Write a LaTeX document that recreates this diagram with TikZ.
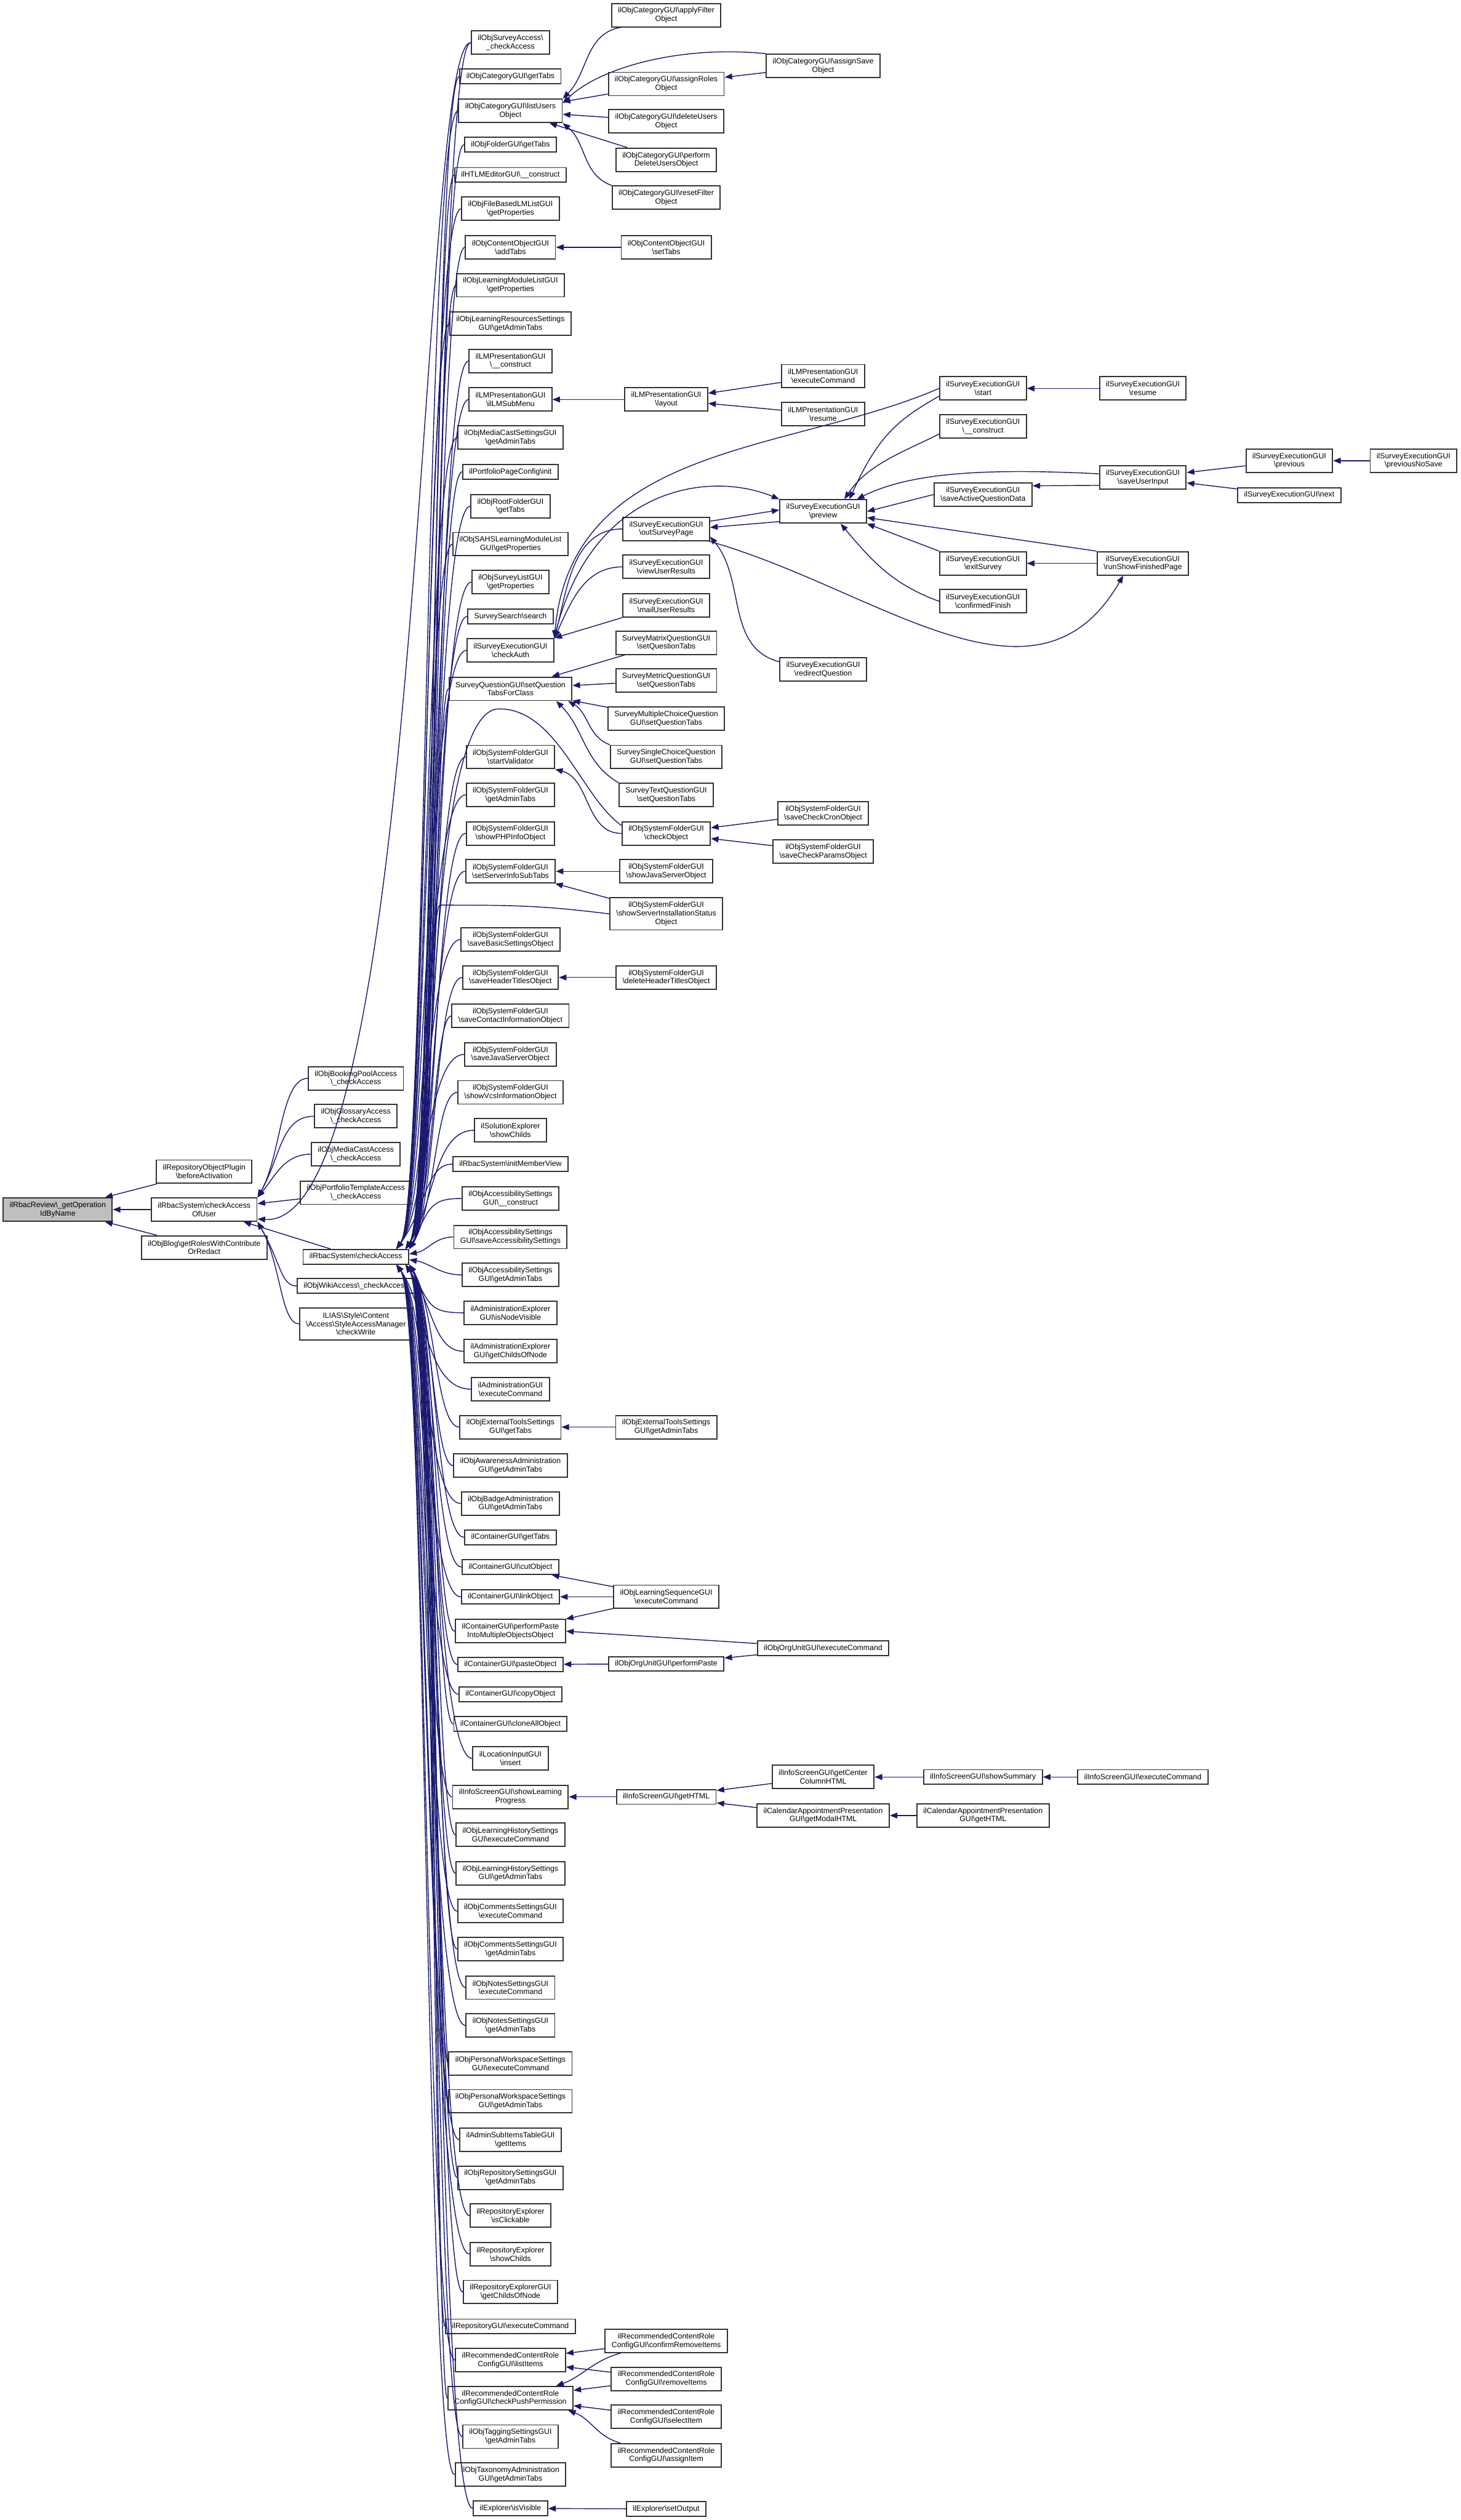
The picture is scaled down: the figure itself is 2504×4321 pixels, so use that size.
\documentclass[tikz,border=0pt]{standalone}
\usepackage{fontspec}
\setmainfont{Liberation Sans}
\usepackage{tikz}
\usetikzlibrary{arrows.meta,calc}
\definecolor{edgecolor}{RGB}{25,25,112}
\definecolor{rootcolor}{RGB}{191,191,191}
\newcommand{\bsl}{\textbackslash}
\tikzset{
  fn box/.style={
    rectangle,
    draw=black!80,
    fill=white,
    line width=2pt,
    align=center,
    inner xsep=11pt,
    inner ysep=5pt,
    minimum height=25pt,
    font=\fontsize{13}{14.5}\selectfont
  },
  fn two/.style={
    fn box,
    minimum height=40pt
  },
  fn three/.style={
    fn box,
    minimum height=55pt
  },
  fn root/.style={
    fn two,
    fill=rootcolor
  },
  arrow/.style={
    ->,
    >={Triangle[length=13pt,width=10pt]},
    draw=edgecolor,
    line width=1.5pt
  },
  fan down/.style={
    to path={.. controls ($(\tikztotarget|-\tikztostart)+(#1,0)$)
      and ($(\tikztotarget)+(#1,-70)$) .. (\tikztotarget)}
  },
  fan down/.default=45,
  fan up/.style={
    to path={.. controls ($(\tikztotarget|-\tikztostart)+(#1,0)$)
      and ($(\tikztotarget)+(#1,70)$) .. (\tikztotarget)}
  },
  fan up/.default=45
}

\begin{document}
\begin{tikzpicture}[x=1pt,y=-1pt]
  \useasboundingbox (0,0) rectangle (2504,4321);

  % Root and first callers
  \node[fn root] (root) at (99,2074) {ilRbacReview\bsl\_getOperation\\IdByName};
  \node[fn two] (plugin) at (350,2009) {ilRepositoryObjectPlugin\\\bsl beforeActivation};
  \node[fn two] (ofuser) at (350,2074) {ilRbacSystem\bsl checkAccess\\OfUser};
  \node[fn two] (blog) at (350,2139) {ilObjBlog\bsl getRolesWithContribute\\OrRedact};

  % Access classes
  \node[fn two] (booking) at (610,1849) {ilObjBookingPoolAccess\\\bsl\_checkAccess};
  \node[fn two] (glossary) at (610,1914) {ilObjGlossaryAccess\\\bsl\_checkAccess};
  \node[fn two] (mediacast) at (610,1979) {ilObjMediaCastAccess\\\bsl\_checkAccess};
  \node[fn two] (portfolio) at (610,2045) {ilObjPortfolioTemplateAccess\\\bsl\_checkAccess};
  \node[fn box] (chk) at (610,2155) {ilRbacSystem\bsl checkAccess};
  \node[fn box] (wiki) at (610,2205) {ilObjWikiAccess\bsl\_checkAccess};
  \node[fn three] (styleacc) at (610,2270) {ILIAS\bsl Style\bsl Content\hfill\\\bsl Access\bsl StyleAccessManager\\\bsl checkWrite};

  % Callers of checkAccess
  \node[fn two] (surveyacc) at (875,73) {ilObjSurveyAccess\bsl\\\_checkAccess};
  \node[fn box] (cattabs) at (875,131) {ilObjCategoryGUI\bsl getTabs};
  \node[fn two] (listusers) at (875,190) {ilObjCategoryGUI\bsl listUsers\\Object};
  \node[fn box] (foldertabs) at (875,248) {ilObjFolderGUI\bsl getTabs};
  \node[fn box] (htlm) at (875,300) {ilHTLMEditorGUI\bsl\_\_construct};
  \node[fn two] (filelm) at (875,358) {ilObjFileBasedLMListGUI\\\bsl getProperties};
  \node[fn two] (addtabs) at (875,424) {ilObjContentObjectGUI\\\bsl addTabs};
  \node[fn two] (lmlist) at (875,489) {ilObjLearningModuleListGUI\\\bsl getProperties};
  \node[fn two] (lrsettings) at (875,555) {ilObjLearningResourcesSettings\\GUI\bsl getAdminTabs};
  \node[fn two] (lmpconstr) at (875,619) {ilLMPresentationGUI\\\bsl\_\_construct};
  \node[fn two] (submenu) at (875,685) {ilLMPresentationGUI\\\bsl ilLMSubMenu};
  \node[fn two] (mcsettings) at (875,750) {ilObjMediaCastSettingsGUI\\\bsl getAdminTabs};
  \node[fn box] (portfolioinit) at (875,809) {ilPortfolioPageConfig\bsl init};
  \node[fn two] (roottabs) at (875,868) {ilObjRootFolderGUI\\\bsl getTabs};
  \node[fn two] (sahs) at (875,933) {ilObjSAHSLearningModuleList\\GUI\bsl getProperties};
  \node[fn two] (surveylist) at (875,998) {ilObjSurveyListGUI\\\bsl getProperties};
  \node[fn box] (search) at (875,1057) {SurveySearch\bsl search};
  \node[fn two] (checkauth) at (875,1115) {ilSurveyExecutionGUI\\\bsl checkAuth};
  \node[fn two] (qtabs) at (875,1181) {SurveyQuestionGUI\bsl setQuestion\\TabsForClass};
  \node[fn two] (startval) at (875,1298) {ilObjSystemFolderGUI\\\bsl startValidator};
  \node[fn two] (sfadmin) at (875,1363) {ilObjSystemFolderGUI\\\bsl getAdminTabs};
  \node[fn two] (phpinfo) at (875,1429) {ilObjSystemFolderGUI\\\bsl showPHPInfoObject};
  \node[fn two] (serverinfo) at (875,1494) {ilObjSystemFolderGUI\hfill\\\bsl setServerInfoSubTabs};
  \node[fn two] (savebasic) at (875,1611) {ilObjSystemFolderGUI\hfill\\\bsl saveBasicSettingsObject};
  \node[fn two] (saveheader) at (875,1676) {ilObjSystemFolderGUI\hfill\\\bsl saveHeaderTitlesObject};
  \node[fn two] (savecontact) at (875,1742) {ilObjSystemFolderGUI\hfill\\\bsl saveContactInformationObject};
  \node[fn two] (savejava) at (875,1808) {ilObjSystemFolderGUI\hfill\\\bsl saveJavaServerObject};
  \node[fn two] (vcs) at (875,1873) {ilObjSystemFolderGUI\hfill\\\bsl showVcsInformationObject};
  \node[fn two] (solution) at (875,1938) {ilSolutionExplorer\\\bsl showChilds};
  \node[fn box] (memberview) at (875,1996) {ilRbacSystem\bsl initMemberView};
  \node[fn two] (accconstr) at (875,2055) {ilObjAccessibilitySettings\\GUI\bsl\_\_construct};
  \node[fn two] (accsave) at (875,2121) {ilObjAccessibilitySettings\hfill\\GUI\bsl saveAccessibilitySettings};
  \node[fn two] (acctabs) at (875,2186) {ilObjAccessibilitySettings\\GUI\bsl getAdminTabs};
  \node[fn two] (admvisible) at (875,2251) {ilAdministrationExplorer\\GUI\bsl isNodeVisible};
  \node[fn two] (admchilds) at (875,2317) {ilAdministrationExplorer\\GUI\bsl getChildsOfNode};
  \node[fn two] (admexec) at (875,2382) {ilAdministrationGUI\\\bsl executeCommand};
  \node[fn two] (exttabs) at (875,2447) {ilObjExternalToolsSettings\\GUI\bsl getTabs};
  \node[fn two] (awareness) at (875,2513) {ilObjAwarenessAdministration\\GUI\bsl getAdminTabs};
  \node[fn two] (badge) at (875,2578) {ilObjBadgeAdministration\\GUI\bsl getAdminTabs};
  \node[fn box] (conttabs) at (875,2636) {ilContainerGUI\bsl getTabs};
  \node[fn box] (cut) at (875,2687) {ilContainerGUI\bsl cutObject};
  \node[fn box] (link) at (875,2738) {ilContainerGUI\bsl linkObject};
  \node[fn two] (pastemulti) at (875,2797) {ilContainerGUI\bsl performPaste\\IntoMultipleObjectsObject};
  \node[fn box] (paste) at (875,2854) {ilContainerGUI\bsl pasteObject};
  \node[fn box] (copy) at (875,2905) {ilContainerGUI\bsl copyObject};
  \node[fn box] (clone) at (875,2956) {ilContainerGUI\bsl cloneAllObject};
  \node[fn two] (location) at (875,3015) {ilLocationInputGUI\\\bsl insert};
  \node[fn two] (showlp) at (875,3081) {ilInfoScreenGUI\bsl showLearning\\Progress};
  \node[fn two] (lhexec) at (875,3146) {ilObjLearningHistorySettings\\GUI\bsl executeCommand};
  \node[fn two] (lhtabs) at (875,3212) {ilObjLearningHistorySettings\\GUI\bsl getAdminTabs};
  \node[fn two] (cmexec) at (875,3277) {ilObjCommentsSettingsGUI\\\bsl executeCommand};
  \node[fn two] (cmtabs) at (875,3342) {ilObjCommentsSettingsGUI\\\bsl getAdminTabs};
  \node[fn two] (ntexec) at (875,3408) {ilObjNotesSettingsGUI\\\bsl executeCommand};
  \node[fn two] (nttabs) at (875,3473) {ilObjNotesSettingsGUI\\\bsl getAdminTabs};
  \node[fn two] (pwexec) at (875,3538) {ilObjPersonalWorkspaceSettings\\GUI\bsl executeCommand};
  \node[fn two] (pwtabs) at (875,3603) {ilObjPersonalWorkspaceSettings\\GUI\bsl getAdminTabs};
  \node[fn two] (subitems) at (875,3669) {ilAdminSubItemsTableGUI\\\bsl getItems};
  \node[fn two] (reposet) at (875,3734) {ilObjRepositorySettingsGUI\\\bsl getAdminTabs};
  \node[fn two] (clickable) at (875,3799) {ilRepositoryExplorer\\\bsl isClickable};
  \node[fn two] (showchilds) at (875,3865) {ilRepositoryExplorer\\\bsl showChilds};
  \node[fn two] (explgui) at (875,3930) {ilRepositoryExplorerGUI\\\bsl getChildsOfNode};
  \node[fn box] (repoexec) at (875,3989) {ilRepositoryGUI\bsl executeCommand};
  \node[fn two] (listitems) at (875,4047) {ilRecommendedContentRole\\ConfigGUI\bsl listItems};
  \node[fn two] (checkpush) at (875,4112) {ilRecommendedContentRole\hfill\\ConfigGUI\bsl checkPushPermission};
  \node[fn two] (tagging) at (875,4178) {ilObjTaggingSettingsGUI\\\bsl getAdminTabs};
  \node[fn two] (taxonomy) at (875,4243) {ilObjTaxonomyAdministration\\GUI\bsl getAdminTabs};
  \node[fn box] (isvisible) at (875,4301) {ilExplorer\bsl isVisible};

  % Fourth column
  \node[fn two] (applyfilter) at (1142,26) {ilObjCategoryGUI\bsl applyFilter\\Object};
  \node[fn two] (assignroles) at (1142,144) {ilObjCategoryGUI\bsl assignRoles\\Object};
  \node[fn two] (deleteusers) at (1142,208) {ilObjCategoryGUI\bsl deleteUsers\\Object};
  \node[fn two] (performdelete) at (1142,274) {ilObjCategoryGUI\bsl perform\\DeleteUsersObject};
  \node[fn two] (resetfilter) at (1142,339) {ilObjCategoryGUI\bsl resetFilter\\Object};
  \node[fn two] (settabs) at (1142,424) {ilObjContentObjectGUI\\\bsl setTabs};
  \node[fn two] (layout) at (1142,685) {ilLMPresentationGUI\\\bsl layout};
  \node[fn two] (outsurvey) at (1142,907) {ilSurveyExecutionGUI\\\bsl outSurveyPage};
  \node[fn two] (viewresults) at (1142,972) {ilSurveyExecutionGUI\\\bsl viewUserResults};
  \node[fn two] (mailresults) at (1142,1038) {ilSurveyExecutionGUI\\\bsl mailUserResults};
  \node[fn two] (matrixq) at (1142,1102) {SurveyMatrixQuestionGUI\\\bsl setQuestionTabs};
  \node[fn two] (metricq) at (1142,1167) {SurveyMetricQuestionGUI\\\bsl setQuestionTabs};
  \node[fn two] (multiq) at (1142,1232) {SurveyMultipleChoiceQuestion\\GUI\bsl setQuestionTabs};
  \node[fn two] (singleq) at (1142,1298) {SurveySingleChoiceQuestion\\GUI\bsl setQuestionTabs};
  \node[fn two] (textq) at (1142,1363) {SurveyTextQuestionGUI\\\bsl setQuestionTabs};
  \node[fn two] (checkobj) at (1142,1429) {ilObjSystemFolderGUI\\\bsl checkObject};
  \node[fn two] (showjava) at (1142,1494) {ilObjSystemFolderGUI\hfill\\\bsl showJavaServerObject};
  \node[fn three] (showserver) at (1142,1567) {ilObjSystemFolderGUI\hfill\\\bsl showServerInstallationStatus\\Object};
  \node[fn two] (deleteheader) at (1142,1676) {ilObjSystemFolderGUI\hfill\\\bsl deleteHeaderTitlesObject};
  \node[fn two] (extadmin) at (1142,2447) {ilObjExternalToolsSettings\\GUI\bsl getAdminTabs};
  \node[fn two] (lsexec) at (1142,2738) {ilObjLearningSequenceGUI\\\bsl executeCommand};
  \node[fn box] (orgpaste) at (1142,2853) {ilObjOrgUnitGUI\bsl performPaste};
  \node[fn box] (infohtml) at (1142,3081) {ilInfoScreenGUI\bsl getHTML};
  \node[fn two] (confirmremove) at (1142,4014) {ilRecommendedContentRole\hfill\\ConfigGUI\bsl confirmRemoveItems};
  \node[fn two] (removeitems) at (1142,4079) {ilRecommendedContentRole\\ConfigGUI\bsl removeItems};
  \node[fn two] (selectitem) at (1142,4144) {ilRecommendedContentRole\\ConfigGUI\bsl selectItem};
  \node[fn two] (assignitem) at (1142,4210) {ilRecommendedContentRole\\ConfigGUI\bsl assignItem};
  \node[fn box] (setoutput) at (1142,4302) {ilExplorer\bsl setOutput};

  % Fifth column
  \node[fn two] (assignsave) at (1411,113) {ilObjCategoryGUI\bsl assignSave\\Object};
  \node[fn two] (lmpexec) at (1411,645) {ilLMPresentationGUI\\\bsl executeCommand};
  \node[fn two] (lmpresume) at (1411,710) {ilLMPresentationGUI\\\bsl resume};
  \node[fn two] (preview) at (1411,877) {ilSurveyExecutionGUI\\\bsl preview};
  \node[fn two] (redirect) at (1411,1148) {ilSurveyExecutionGUI\\\bsl redirectQuestion};
  \node[fn two] (savecron) at (1411,1395) {ilObjSystemFolderGUI\hfill\\\bsl saveCheckCronObject};
  \node[fn two] (saveparams) at (1411,1460) {ilObjSystemFolderGUI\hfill\\\bsl saveCheckParamsObject};
  \node[fn box] (orgexec) at (1411,2826) {ilObjOrgUnitGUI\bsl executeCommand};
  \node[fn two] (centercol) at (1411,3047) {ilInfoScreenGUI\bsl getCenter\\ColumnHTML};
  \node[fn two] (modalhtml) at (1411,3113) {ilCalendarAppointmentPresentation\\GUI\bsl getModalHTML};

  % Sixth to ninth columns
  \node[fn two] (start) at (1685,666) {ilSurveyExecutionGUI\\\bsl start};
  \node[fn two] (seconstr) at (1685,731) {ilSurveyExecutionGUI\\\bsl\_\_construct};
  \node[fn two] (saveactive) at (1685,848) {ilSurveyExecutionGUI\hfill\\\bsl saveActiveQuestionData};
  \node[fn two] (exitsurvey) at (1685,966) {ilSurveyExecutionGUI\\\bsl exitSurvey};
  \node[fn two] (confirmed) at (1685,1031) {ilSurveyExecutionGUI\\\bsl confirmedFinish};
  \node[fn box] (showsummary) at (1685,3047) {ilInfoScreenGUI\bsl showSummary};
  \node[fn two] (calhtml) at (1685,3113) {ilCalendarAppointmentPresentation\\GUI\bsl getHTML};
  \node[fn two] (resume) at (1959,666) {ilSurveyExecutionGUI\\\bsl resume};
  \node[fn two] (saveinput) at (1959,819) {ilSurveyExecutionGUI\\\bsl saveUserInput};
  \node[fn two] (runshow) at (1959,966) {ilSurveyExecutionGUI\hfill\\\bsl runShowFinishedPage};
  \node[fn box] (infoexec) at (1959,3047) {ilInfoScreenGUI\bsl executeCommand};
  \node[fn two] (previous) at (2210,790) {ilSurveyExecutionGUI\\\bsl previous};
  \node[fn box] (next) at (2210,849) {ilSurveyExecutionGUI\bsl next};
  \node[fn two] (prevnosave) at (2423,790) {ilSurveyExecutionGUI\\\bsl previousNoSave};

  % Into the root
  \draw[arrow] (plugin) -- (root);
  \draw[arrow] (ofuser) -- (root);
  \draw[arrow] (blog) -- (root);

  % Into checkAccessOfUser
  \draw[arrow] (booking.west) to[fan down=40] (ofuser.north east);
  \draw[arrow] (glossary.west) to[fan down=40] (ofuser.north east);
  \draw[arrow] (mediacast.west) to[out=180,in=50] (ofuser.north east);
  \draw[arrow] (portfolio) -- (ofuser);
  \draw[arrow] (chk) -- (ofuser);
  \draw[arrow] (wiki.west) to[fan up=40] (ofuser.south east);
  \draw[arrow] (styleacc.west) to[fan up=40] (ofuser.south east);
  \draw[arrow] (surveyacc.west) .. controls +(-90,0) and +(290,20) .. (ofuser.-10);

  % Into checkAccess from above
  \draw[arrow] (surveyacc.west) to[fan down] (chk.north east);
  \draw[arrow] (cattabs.west) to[fan down=48] (chk.9);
  \draw[arrow] (listusers.west) to[fan down=51] (chk.11);
  \draw[arrow] (foldertabs.west) to[fan down] (chk.north east);
  \draw[arrow] (htlm.west) to[fan down=48] (chk.9);
  \draw[arrow] (filelm.west) to[fan down=51] (chk.11);
  \draw[arrow] (addtabs.west) to[fan down] (chk.north east);
  \draw[arrow] (lmlist.west) to[fan down=48] (chk.9);
  \draw[arrow] (lrsettings.west) to[fan down=51] (chk.11);
  \draw[arrow] (lmpconstr.west) to[fan down] (chk.north east);
  \draw[arrow] (submenu.west) to[fan down=48] (chk.9);
  \draw[arrow] (mcsettings.west) to[fan down=51] (chk.11);
  \draw[arrow] (portfolioinit.west) to[fan down] (chk.north east);
  \draw[arrow] (roottabs.west) to[fan down=48] (chk.9);
  \draw[arrow] (sahs.west) to[fan down=51] (chk.11);
  \draw[arrow] (surveylist.west) to[fan down] (chk.north east);
  \draw[arrow] (search.west) to[fan down=48] (chk.9);
  \draw[arrow] (checkauth.west) to[fan down=51] (chk.11);
  \draw[arrow] (qtabs.west) to[fan down] (chk.north east);
  \draw[arrow] (startval.west) to[fan down=48] (chk.9);
  \draw[arrow] (sfadmin.west) to[fan down=51] (chk.11);
  \draw[arrow] (phpinfo.west) to[fan down] (chk.north east);
  \draw[arrow] (serverinfo.west) to[fan down=48] (chk.9);
  \draw[arrow] (savebasic.west) to[fan down=51] (chk.11);
  \draw[arrow] (saveheader.west) to[fan down] (chk.north east);
  \draw[arrow] (savecontact.west) to[fan down=48] (chk.9);
  \draw[arrow] (savejava.west) to[fan down=51] (chk.11);
  \draw[arrow] (vcs.west) to[fan down] (chk.north east);
  \draw[arrow] (solution.west) to[fan down=48] (chk.9);
  \draw[arrow] (memberview.west) to[fan down=51] (chk.11);
  \draw[arrow] (accconstr.west) to[fan down=35] (chk.north east);
  \draw[arrow] (accsave.west) to[out=180,in=10] (chk.3);
  \draw[arrow] (acctabs.west) to[out=180,in=-10] (chk.-3);

  % Into checkAccess from below
  \draw[arrow] (admvisible.west) to[fan up=35] (chk.south east);
  \draw[arrow] (admchilds.west) to[fan up=48] (chk.-9);
  \draw[arrow] (admexec.west) to[fan up=51] (chk.-11);
  \draw[arrow] (exttabs.west) to[fan up] (chk.south east);
  \draw[arrow] (awareness.west) to[fan up=48] (chk.-9);
  \draw[arrow] (badge.west) to[fan up=51] (chk.-11);
  \draw[arrow] (conttabs.west) to[fan up] (chk.south east);
  \draw[arrow] (cut.west) to[fan up=48] (chk.-9);
  \draw[arrow] (link.west) to[fan up=51] (chk.-11);
  \draw[arrow] (pastemulti.west) to[fan up] (chk.south east);
  \draw[arrow] (paste.west) to[fan up=48] (chk.-9);
  \draw[arrow] (copy.west) to[fan up=51] (chk.-11);
  \draw[arrow] (clone.west) to[fan up] (chk.south east);
  \draw[arrow] (location.west) to[fan up=48] (chk.-9);
  \draw[arrow] (showlp.west) to[fan up=51] (chk.-11);
  \draw[arrow] (lhexec.west) to[fan up] (chk.south east);
  \draw[arrow] (lhtabs.west) to[fan up=48] (chk.-9);
  \draw[arrow] (cmexec.west) to[fan up=51] (chk.-11);
  \draw[arrow] (cmtabs.west) to[fan up] (chk.south east);
  \draw[arrow] (ntexec.west) to[fan up=48] (chk.-9);
  \draw[arrow] (nttabs.west) to[fan up=51] (chk.-11);
  \draw[arrow] (pwexec.west) to[fan up] (chk.south east);
  \draw[arrow] (pwtabs.west) to[fan up=48] (chk.-9);
  \draw[arrow] (subitems.west) to[fan up=51] (chk.-11);
  \draw[arrow] (reposet.west) to[fan up] (chk.south east);
  \draw[arrow] (clickable.west) to[fan up=48] (chk.-9);
  \draw[arrow] (showchilds.west) to[fan up=51] (chk.-11);
  \draw[arrow] (explgui.west) to[fan up] (chk.south east);
  \draw[arrow] (repoexec.west) to[fan up=48] (chk.-9);
  \draw[arrow] (listitems.west) to[fan up=51] (chk.-11);
  \draw[arrow] (checkpush.west) to[fan up] (chk.south east);
  \draw[arrow] (tagging.west) to[fan up=48] (chk.-9);
  \draw[arrow] (taxonomy.west) to[fan up=51] (chk.-11);
  \draw[arrow] (isvisible.west) to[fan up] (chk.south east);

  % Long ones from the fourth column
  \draw[arrow] (checkobj.170) .. controls +(-70,-50) and +(100,0) .. ++(-210,-200)
    .. controls +(-130,0) and +(45,-70) .. (chk.north east);
  \draw[arrow] (showserver.west) .. controls +(-120,-15) and +(120,0) .. ++(-290,-15)
    .. controls +(-20,0) and +(45,-70) .. (chk.north east);

  % Category
  \draw[arrow] (applyfilter.-165) to[out=190,in=45] (listusers.north east);
  \draw[arrow] (assignsave.north west) .. controls +(-150,-15) and +(60,-60) .. (listusers.8);
  \draw[arrow] (assignsave) -- (assignroles);
  \draw[arrow] (assignroles) -- (listusers);
  \draw[arrow] (deleteusers) -- (listusers);
  \draw[arrow] (performdelete) -- (listusers);
  \draw[arrow] (resetfilter.north west) to[out=160,in=-40] (listusers.south east);
  \draw[arrow] (settabs) -- (addtabs);

  % Learning module presentation
  \draw[arrow] (layout) -- (submenu);
  \draw[arrow] (lmpexec) -- (layout);
  \draw[arrow] (lmpresume) -- (layout);

  % Survey execution
  \draw[arrow] (outsurvey.west) to[out=180,in=75] (checkauth.north east);
  \draw[arrow] (viewresults.west) to[out=180,in=65] (checkauth.north east);
  \draw[arrow] (mailresults.south west) -- (checkauth.north east);
  \draw[arrow] (start.west) .. controls +(-260,112) and +(30,-335) .. (checkauth.north east);
  \draw[arrow] (checkauth.north east) .. controls +(60,-260) and +(-120,-50) .. (preview.north west);
  \draw[arrow] (outsurvey.10) -- (preview.178);
  \draw[arrow] (preview.193) -- (outsurvey.2);
  \draw[arrow] (redirect.170) to[out=165,in=-50] (outsurvey.-10);
  \draw[arrow] (outsurvey.-16) .. controls +(288,81) and +(-150,260) .. (runshow.-148);
  \draw[arrow] (runshow.north west) -- (preview.-8);
  \draw[arrow] (exitsurvey.north west) -- (preview.south east);
  \draw[arrow] (confirmed.west) to[out=160,in=-50] (preview.-35);
  \draw[arrow] (saveactive.west) -- (preview.east);
  \draw[arrow] (saveinput.175) .. controls +(-200,-10) and +(90,-45) .. (preview.20);
  \draw[arrow] (start.-170) .. controls +(-70,40) and +(50,-110) .. (preview.25);
  \draw[arrow] (seconstr.-170) .. controls +(-60,30) and +(40,-60) .. (preview.30);
  \draw[arrow] (saveinput.-170) -- (saveactive.10);
  \draw[arrow] (previous) -- (saveinput);
  \draw[arrow] (next) -- (saveinput);
  \draw[arrow] (prevnosave) -- (previous);
  \draw[arrow] (resume) -- (start);
  \draw[arrow] (runshow) -- (exitsurvey);

  % Survey questions and system folder
  \draw[arrow] (matrixq) -- (qtabs);
  \draw[arrow] (metricq) -- (qtabs);
  \draw[arrow] (multiq) -- (qtabs);
  \draw[arrow] (singleq.north west) to[out=160,in=-30] (qtabs.-12);
  \draw[arrow] (textq.north west) to[out=150,in=-45] (qtabs.-15);
  \draw[arrow] (checkobj.west) to[out=180,in=-15] (startval.south east);
  \draw[arrow] (savecron) -- (checkobj);
  \draw[arrow] (saveparams) -- (checkobj);
  \draw[arrow] (showjava) -- (serverinfo);
  \draw[arrow] (showserver) -- (serverinfo);
  \draw[arrow] (deleteheader) -- (saveheader);
  \draw[arrow] (extadmin) -- (exttabs);

  % Container
  \draw[arrow] (lsexec) -- (cut);
  \draw[arrow] (lsexec) -- (link);
  \draw[arrow] (lsexec) -- (pastemulti);
  \draw[arrow] (orgexec.176) -- (pastemulti.east);
  \draw[arrow] (orgexec) -- (orgpaste);
  \draw[arrow] (orgpaste) -- (paste);

  % Info screen
  \draw[arrow] (infohtml) -- (showlp);
  \draw[arrow] (centercol) -- (infohtml);
  \draw[arrow] (modalhtml) -- (infohtml);
  \draw[arrow] (showsummary) -- (centercol);
  \draw[arrow] (infoexec) -- (showsummary);
  \draw[arrow] (calhtml) -- (modalhtml);

  % Recommended content
  \draw[arrow] (confirmremove) -- (listitems);
  \draw[arrow] (removeitems) -- (listitems);
  \draw[arrow] (confirmremove.-165) to[out=195,in=20] (checkpush.15);
  \draw[arrow] (removeitems) -- (checkpush);
  \draw[arrow] (selectitem) -- (checkpush);
  \draw[arrow] (assignitem.165) to[out=165,in=-20] (checkpush.-12);
  \draw[arrow] (setoutput) -- (isvisible);
\end{tikzpicture}
\end{document}
